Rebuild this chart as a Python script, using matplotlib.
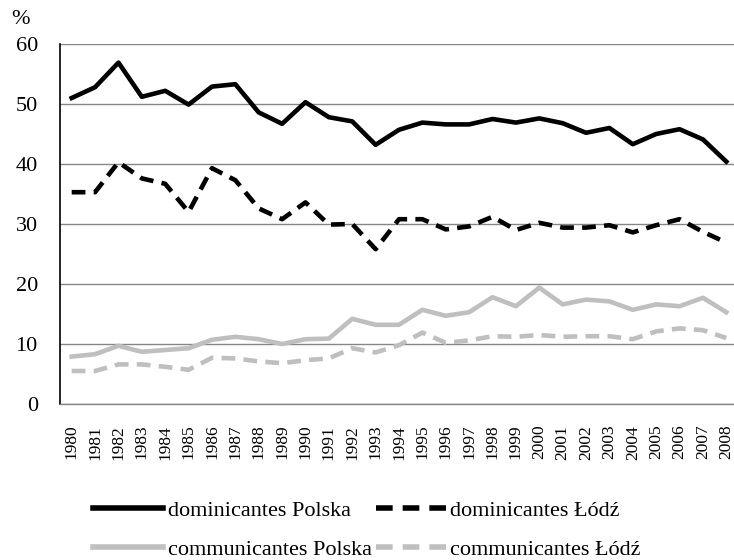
import matplotlib.pyplot as plt
import numpy as np

plt.rcParams['font.family'] = ['Liberation Serif', 'DejaVu Serif']

years = [str(y) for y in range(1980, 2009)]

dom_polska = [51.0, 52.8, 56.9, 51.2, 52.2, 49.9, 52.9, 53.3, 48.6, 46.7,
              50.3, 47.8, 47.1, 43.2, 45.7, 46.9, 46.6, 46.6, 47.5, 46.9,
              47.6, 46.8, 45.2, 46.0, 43.3, 45.0, 45.8, 44.1, 40.4]
dom_lodz = [35.3, 35.3, 40.3, 37.6, 36.7, 32.0, 39.3, 37.3, 32.6, 30.8,
            33.6, 29.9, 30.0, 25.8, 30.8, 30.8, 29.1, 29.6, 31.2, 29.0,
            30.2, 29.4, 29.4, 29.8, 28.6, 29.8, 30.8, 28.7, 26.9]
com_polska = [7.9, 8.3, 9.7, 8.7, 9.0, 9.3, 10.7, 11.2, 10.8, 10.0,
              10.8, 10.9, 14.2, 13.2, 13.2, 15.7, 14.7, 15.3, 17.8, 16.3,
              19.4, 16.6, 17.4, 17.1, 15.7, 16.6, 16.3, 17.7, 15.3]
com_lodz = [5.5, 5.5, 6.6, 6.6, 6.2, 5.7, 7.7, 7.6, 7.1, 6.8,
            7.3, 7.6, 9.3, 8.6, 9.8, 11.9, 10.2, 10.6, 11.3, 11.2,
            11.5, 11.2, 11.3, 11.3, 10.8, 12.1, 12.6, 12.3, 11.0]

gray = '#bfbfbf'
dash = (0, (3.0, 1.8))

fig = plt.figure(figsize=(7.34, 5.6), dpi=100)
ax = fig.add_axes([60 / 734, 156 / 560, 678 / 734, 360 / 560])

x = np.arange(len(years))
l1, = ax.plot(x, dom_polska, color='black', lw=3.3, label='dominicantes Polska')
l2, = ax.plot(x, dom_lodz, color='black', lw=3.3, linestyle=dash, label='dominicantes Łódź')
l3, = ax.plot(x, com_polska, color=gray, lw=3.3, label='communicantes Polska')
l4, = ax.plot(x, com_lodz, color=gray, lw=3.3, linestyle=dash, label='communicantes Łódź')

ax.set_xlim(-0.5, len(years) - 0.5)
ax.set_ylim(0, 60)
ax.set_yticks(range(0, 61, 10))
ax.set_xticks(x)
ax.set_xticklabels(years, rotation=90, fontsize=12.5)
ax.tick_params(axis='y', labelsize=16, length=0, pad=16)
ax.tick_params(axis='x', length=0, pad=15)
ax.grid(axis='y', color='#868686', lw=1)
ax.set_axisbelow(True)
for s in ['top', 'right']:
    ax.spines[s].set_visible(False)
ax.spines['left'].set_color('black')
ax.spines['left'].set_linewidth(1.2)
ax.spines['bottom'].set_color('#868686')
ax.spines['bottom'].set_linewidth(1)

fig.text(21 / 734, 1 - 20 / 560, '%', fontsize=16, ha='center', va='center')

leg = fig.legend([l1, l3, l2, l4], [l1.get_label(), l3.get_label(), l2.get_label(), l4.get_label()],
                 loc='center', bbox_to_anchor=(0.5, 1 - 530 / 560), ncol=2,
                 frameon=False, fontsize=16, handlelength=3.15, handletextpad=0.2,
                 columnspacing=0.2, labelspacing=0.85, borderpad=0)
for h in leg.get_lines():
    h.set_linewidth(4)

fig.savefig('out.png', dpi=100)
